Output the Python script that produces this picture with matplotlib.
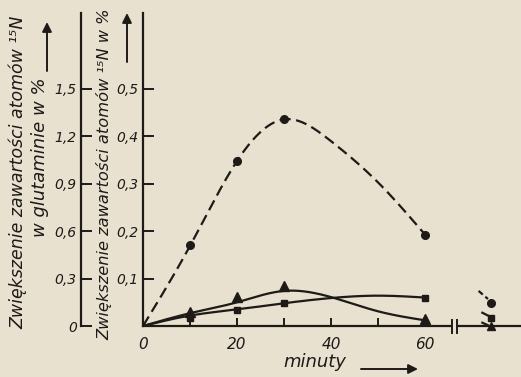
import numpy as np
import matplotlib
matplotlib.use("Agg")
import matplotlib.pyplot as plt

# measured points (minutes, increase of 15N atom %)
minutes = [10, 20, 30, 60]
glutamine = [0.170, 0.349, 0.436, 0.193]      # dashed, circles (left scale x3)
series_tri = [0.029, 0.061, 0.085, 0.014]     # triangles
series_sq = [0.016, 0.033, 0.049, 0.059]      # squares

# hand drawn curves
curve_x = [0, 10, 20, 30, 40, 50, 60]
curve_gln_y = [0, 0.169, 0.348, 0.436, 0.390, 0.303, 0.193]
curve_tri_y = [0, 0.027, 0.050, 0.074, 0.061, 0.031, 0.012]
curve_sq_y = [0, 0.022, 0.035, 0.048, 0.059, 0.064, 0.060]

# values after the axis break
late_x = 74
late_gln = 0.049
late_sq = 0.017
late_tri = 0.001
stub_gln_x, stub_gln_y = [71.4, 73.4], [0.074, 0.057]
stub_sq_x, stub_sq_y = [72.2, 73.6], [0.028, 0.021]
stub_tri_x, stub_tri_y = [72.2, 73.3], [0.007, 0.002]

xticks = [0, 10, 20, 30, 40, 50, 60]
xticklabels = ["0", "", "20", "", "40", "", "60"]
yticks = [0.1, 0.2, 0.3, 0.4, 0.5]
yticklabels = ["0,1", "0,2", "0,3", "0,4", "0,5"]
gticks = [0, 0.3, 0.6, 0.9, 1.2, 1.5]
gticklabels = ["0", "0,3", "0,6", "0,9", "1,2", "1,5"]

bg = "#e8e1cf"
ink = "#1d1a17"


def smooth(xs, ys, n=300):
    xs = np.asarray(xs, float)
    ys = np.asarray(ys, float)
    h = np.diff(xs)
    m = len(xs)
    A = np.zeros((m, m))
    r = np.zeros(m)
    A[0, 0] = A[-1, -1] = 1
    for i in range(1, m - 1):
        A[i, i - 1] = h[i - 1]
        A[i, i] = 2 * (h[i - 1] + h[i])
        A[i, i + 1] = h[i]
        r[i] = 3 * ((ys[i + 1] - ys[i]) / h[i] - (ys[i] - ys[i - 1]) / h[i - 1])
    c = np.linalg.solve(A, r)
    b = (ys[1:] - ys[:-1]) / h - h * (2 * c[:-1] + c[1:]) / 3
    d = (c[1:] - c[:-1]) / (3 * h)
    xx = np.linspace(xs[0], xs[-1], n)
    k = np.clip(np.searchsorted(xs, xx) - 1, 0, m - 2)
    t = xx - xs[k]
    return xx, ys[k] + b[k] * t + c[k] * t ** 2 + d[k] * t ** 3


plt.rcParams["font.family"] = ["DejaVu Sans"]
plt.rcParams["font.style"] = "italic"

fig = plt.figure(figsize=(5.21, 3.77), dpi=100, facecolor=bg)
pos = [143 / 521, 51 / 377, 378 / 521, 313 / 377]
ax = fig.add_axes(pos)
ax.set_facecolor(bg)
ax.set_xlim(0, 378 / 4.7)
ax.set_ylim(0, 313 / 474)

for s in ["top", "right"]:
    ax.spines[s].set_visible(False)
for s in ["left", "bottom"]:
    ax.spines[s].set_color(ink)
    ax.spines[s].set_linewidth(1.6)

ax.set_xticks(xticks)
ax.set_xticklabels(xticklabels)
ax.set_yticks(yticks)
ax.set_yticklabels(yticklabels)
ax.tick_params(axis="x", direction="in", length=6, width=1.4, color=ink,
               labelsize=11, pad=8, labelcolor=ink)
ax.tick_params(axis="y", direction="in", length=8, width=1.4, color=ink,
               labelsize=10, pad=3, labelcolor=ink)

# second (glutamine) scale
ax2 = fig.add_axes(pos)
ax2.patch.set_visible(False)
ax2.set_ylim(0, 3 * 313 / 474)
ax2.set_xlim(ax.get_xlim())
for s in ["top", "right", "bottom"]:
    ax2.spines[s].set_visible(False)
ax2.spines["left"].set_position(("axes", -62 / 378))
ax2.spines["left"].set_color(ink)
ax2.spines["left"].set_linewidth(1.6)
ax2.set_xticks([])
ax2.set_yticks(gticks)
ax2.set_yticklabels(gticklabels)
ax2.tick_params(axis="y", direction="in", length=8, width=1.4, color=ink,
                labelsize=10, pad=3, labelcolor=ink)

# curves
gx, gy = smooth(curve_x, curve_gln_y)
ax.plot(gx, gy, color=ink, lw=1.6, ls=(0, (5, 2.5)), zorder=4)
tx, ty = smooth(curve_x, curve_tri_y)
ax.plot(tx, ty, color=ink, lw=1.6, zorder=4)
sx, sy = smooth(curve_x, curve_sq_y)
ax.plot(sx, sy, color=ink, lw=1.6, zorder=4)

ax.plot(minutes, glutamine, "o", color=ink, ms=5.5, zorder=5)
ax.plot(minutes, series_tri, "^", color=ink, ms=7, zorder=5, clip_on=False)
ax.plot(minutes, series_sq, "s", color=ink, ms=5, zorder=5)

# after the break
ax.plot(stub_gln_x, stub_gln_y, color=ink, lw=1.6, ls=(0, (2.5, 1.5)))
ax.plot(stub_sq_x, stub_sq_y, color=ink, lw=1.6)
ax.plot(stub_tri_x, stub_tri_y, color=ink, lw=1.6)
ax.plot([late_x], [late_gln], "o", color=ink, ms=5.5, zorder=5)
ax.plot([late_x], [late_sq], "s", color=ink, ms=5, zorder=5)
ax.plot([late_x], [late_tri], "^", color=ink, ms=6, zorder=5, clip_on=False)

# axis break marks
ax.fill_between([65.8, 66.8], -0.006, 0.006, color=bg, zorder=6, clip_on=False, lw=0)
for bx in [65.7, 66.9]:
    ax.plot([bx, bx], [-0.014, 0.012], color=ink, lw=1.4, zorder=7, clip_on=False)

# labels
fig.text(18 / 521, 1 - 172 / 377, "Zwiększenie zawartości atomów ¹⁵N",
         rotation=90, ha="center", va="center", fontsize=12.5, color=ink)
fig.text(40 / 521, 1 - 157 / 377, "w glutaminie w %",
         rotation=90, ha="center", va="center", fontsize=13, color=ink)
fig.text(104 / 521, 1 - 174 / 377, "Zwiększenie zawartości atomów ¹⁵N w %",
         rotation=90, ha="center", va="center", fontsize=11.7, color=ink)
fig.text(315 / 521, 1 - 362 / 377, "minuty", ha="center", va="center",
         fontsize=13, color=ink)

arrow = dict(arrowstyle="-|>", lw=1.4, color=ink, mutation_scale=14, shrinkA=0, shrinkB=0)
ax.annotate("", xy=(47 / 521, 1 - 22 / 377), xytext=(47 / 521, 1 - 71 / 377),
            xycoords="figure fraction", textcoords="figure fraction", arrowprops=arrow)
ax.annotate("", xy=(127 / 521, 1 - 13 / 377), xytext=(127 / 521, 1 - 62 / 377),
            xycoords="figure fraction", textcoords="figure fraction", arrowprops=arrow)
ax.annotate("", xy=(418 / 521, 1 - 369 / 377), xytext=(361 / 521, 1 - 369 / 377),
            xycoords="figure fraction", textcoords="figure fraction", arrowprops=arrow)

fig.savefig("out.png", dpi=100, facecolor=bg)
